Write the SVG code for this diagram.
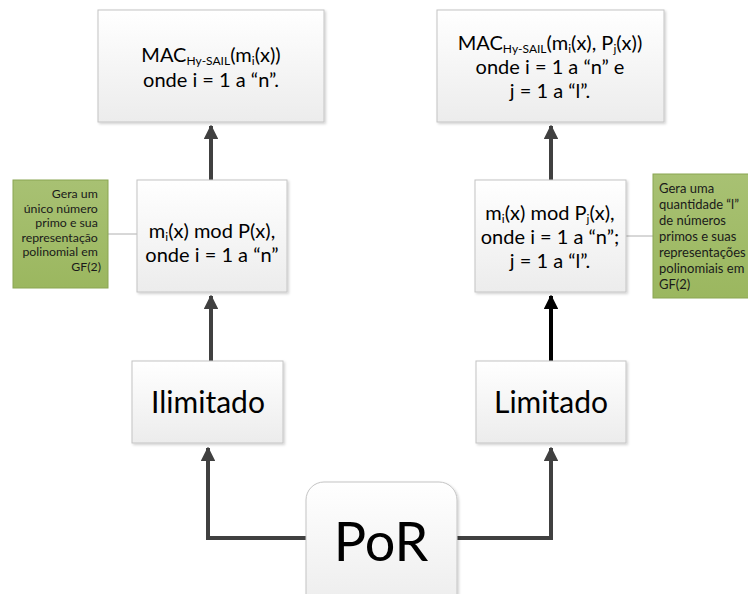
<svg xmlns="http://www.w3.org/2000/svg" width="748" height="594" viewBox="0 0 748 594">
  <defs>
    <linearGradient id="boxFill" x1="0" y1="0" x2="0" y2="1">
      <stop offset="0" stop-color="#ffffff"/>
      <stop offset="1" stop-color="#ececec"/>
    </linearGradient>
    <linearGradient id="noteFill" x1="0" y1="0" x2="0" y2="1">
      <stop offset="0" stop-color="#a8c173"/>
      <stop offset="1" stop-color="#9bb75f"/>
    </linearGradient>
    <filter id="shadow" x="-10%" y="-10%" width="130%" height="130%">
      <feDropShadow dx="1.5" dy="1.5" stdDeviation="1" flood-color="#000" flood-opacity="0.18"/>
    </filter>
    <marker id="arrow" viewBox="0 0 10 10" refX="9" refY="5" markerWidth="3.6" markerHeight="3.6" orient="auto" markerUnits="strokeWidth">
      <path d="M0,0 L10,5 L0,10 z" fill="#404040"/>
    </marker>
    <marker id="arrowBlack" viewBox="0 0 10 10" refX="9" refY="5" markerWidth="3.6" markerHeight="3.6" orient="auto" markerUnits="strokeWidth">
      <path d="M0,0 L10,5 L0,10 z" fill="#000"/>
    </marker>
  </defs>
  <style>
    .box { fill: url(#boxFill); stroke: #c4c4c4; stroke-width: 1; filter: url(#shadow); }
    .note { fill: url(#noteFill); stroke: #8aa553; stroke-width: 1; }
    .t { font-family: Lato, "Open Sans", "Liberation Sans", sans-serif; fill: #000; }
    .mid { font-size: 20px; text-anchor: middle; }
    .big { font-size: 30px; text-anchor: middle; }
    .huge { font-size: 54px; text-anchor: middle; }
    .small { font-size: 13px; fill: #1a1a1a; }
    .smallL { font-size: 12.3px; fill: #1a1a1a; }
    .sub { font-size: 12px; }
    .edge { fill: none; stroke: #404040; stroke-width: 4; }
    .edgeBlack { fill: none; stroke: #000; stroke-width: 4; }
    .link { fill: none; stroke: #b0b0b0; stroke-width: 1; }
  </style>

  <!-- connectors -->
  <g id="connectors">
    <path class="edge" d="M306,538 H208 V448" marker-end="url(#arrow)"/>
    <path class="edge" d="M457,538 H551 V448" marker-end="url(#arrow)"/>
    <path class="edge" d="M211,361 V296" marker-end="url(#arrow)"/>
    <path class="edgeBlack" d="M551,361 V296" marker-end="url(#arrowBlack)"/>
    <path class="edge" d="M211,180 V126" marker-end="url(#arrow)"/>
    <path class="edge" d="M551,180 V126" marker-end="url(#arrow)"/>
    <path class="link" d="M108,234 H137"/>
    <path class="link" d="M626,236 H653"/>
  </g>

  <!-- MAC for the unlimited case -->
  <g id="mac-ilimitado">
    <rect class="box" x="98" y="10" width="226" height="112"/>
    <text class="t mid" x="211" y="62">MAC<tspan class="sub" dy="3">Hy-SAIL</tspan><tspan dy="-3">(m</tspan><tspan class="sub" dy="3">i</tspan><tspan dy="-3">(x))</tspan></text>
    <text class="t mid" x="211" y="87">onde i = 1 a “n”.</text>
  </g>

  <!-- MAC for the limited case -->
  <g id="mac-limitado">
    <rect class="box" x="437" y="10" width="227" height="112"/>
    <text class="t mid" x="550" y="50">MAC<tspan class="sub" dy="3">Hy-SAIL</tspan><tspan dy="-3">(m</tspan><tspan class="sub" dy="3">i</tspan><tspan dy="-3">(x), P</tspan><tspan class="sub" dy="3">j</tspan><tspan dy="-3">(x))</tspan></text>
    <text class="t mid" x="550" y="74">onde i = 1 a “n” e</text>
    <text class="t mid" x="550" y="98">j = 1 a “l”.</text>
  </g>

  <!-- single-modulus reduction -->
  <g id="mod-ilimitado">
    <rect class="box" x="137" y="180" width="150" height="112"/>
    <text class="t mid" x="212" y="238">m<tspan class="sub" dy="3">i</tspan><tspan dy="-3">(x) mod P(x),</tspan></text>
    <text class="t mid" x="212" y="262">onde i = 1 a “n”</text>
  </g>

  <!-- multi-modulus reduction -->
  <g id="mod-limitado">
    <rect class="box" x="475" y="180" width="151" height="112"/>
    <text class="t mid" x="550" y="220">m<tspan class="sub" dy="3">i</tspan><tspan dy="-3">(x) mod P</tspan><tspan class="sub" dy="3">j</tspan><tspan dy="-3">(x),</tspan></text>
    <text class="t mid" x="550" y="244">onde i = 1 a “n”;</text>
    <text class="t mid" x="550" y="268">j = 1 a “l”.</text>
  </g>

  <g id="ilimitado">
    <rect class="box" x="132" y="361" width="151" height="82"/>
    <text class="t big" x="208" y="413">Ilimitado</text>
  </g>

  <g id="limitado">
    <rect class="box" x="476" y="361" width="150" height="82"/>
    <text class="t big" x="551" y="413">Limitado</text>
  </g>

  <g id="por">
    <rect class="box" x="306" y="482" width="151" height="130" rx="18" ry="18"/>
    <text class="t huge" x="381" y="561">PoR</text>
  </g>

  <!-- annotation notes -->
  <g id="note-ilimitado">
    <rect class="note" x="13" y="180" width="95" height="108"/>
    <text class="t smallL" text-anchor="end">
      <tspan x="101" y="198">Gera um</tspan>
      <tspan x="101" y="212.5">único número</tspan>
      <tspan x="101" y="227">primo e sua</tspan>
      <tspan x="101" y="241.5">representação</tspan>
      <tspan x="101" y="256">polinomial em</tspan>
      <tspan x="101" y="270.5">GF(2)</tspan>
    </text>
  </g>

  <g id="note-limitado">
    <rect class="note" x="653" y="174" width="100" height="124"/>
    <text class="t small">
      <tspan x="659" y="193">Gera uma</tspan>
      <tspan x="659" y="209">quantidade “l”</tspan>
      <tspan x="659" y="225">de números</tspan>
      <tspan x="659" y="241">primos e suas</tspan>
      <tspan x="659" y="257">representações</tspan>
      <tspan x="659" y="273">polinomiais em</tspan>
      <tspan x="659" y="289">GF(2)</tspan>
    </text>
  </g>
</svg>
